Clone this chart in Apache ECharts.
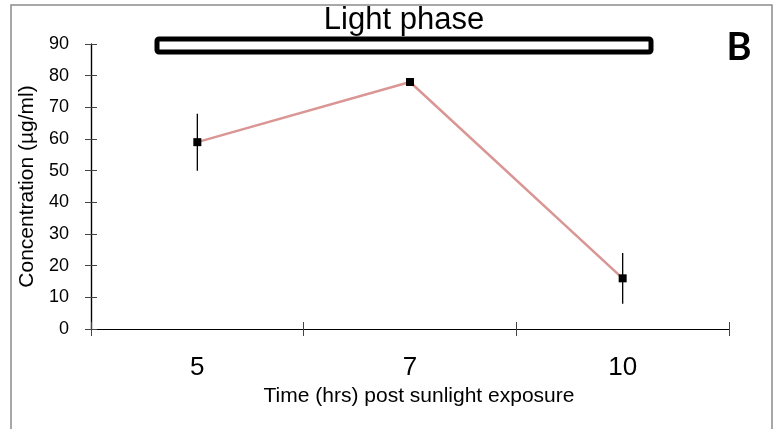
<!DOCTYPE html>
<html>
<head>
<meta charset="utf-8">
<script src="https://cdn.jsdelivr.net/npm/echarts@6/dist/echarts.min.js"></script>
<style>
  html, body { margin: 0; padding: 0; background: #fff; }
  #chart { width: 774px; height: 429px; }
</style>
</head>
<body>
<div id="chart"></div>
<script>
// hours after sunlight exposure
const hours = ['5', '7', '10']
// mean concentration (µg/ml)
const concentration = [59, 78, 16]
// error bar half-widths
const errors = [9, 0, 8]

const yTicks = { min: 0, max: 90, interval: 10 }
const font = 'Liberation Sans, Arial, sans-serif'

// plot area
const grid = { left: 91, right: 45, top: 44, bottom: 100 }
const plotW = 774 - grid.left - grid.right
const plotH = 429 - grid.top - grid.bottom

const myChart = echarts.init(document.getElementById('chart'))

myChart.setOption({
  backgroundColor: '#fff',
  animation: false,
  grid: grid,
  xAxis: [
    {
      type: 'category',
      data: hours,
      boundaryGap: true,
      name: 'Time (hrs) post sunlight exposure',
      nameLocation: 'middle',
      nameGap: 52,
      nameTextStyle: { fontFamily: font, fontSize: 21, color: '#000', padding: [0, 0, 0, 18] },
      axisLine: { lineStyle: { color: '#000', width: 1.2 } },
      axisTick: { show: true, length: 7, lineStyle: { color: '#444' } },
      axisLabel: { fontFamily: font, fontSize: 26, color: '#000', margin: 26 },
      splitLine: { show: false }
    },
    {
      // top axis moved down onto the bottom one: draws the upper half of the crossing ticks
      type: 'category',
      data: hours,
      position: 'top',
      offset: -plotH,
      boundaryGap: true,
      axisLine: { show: true, onZero: false, lineStyle: { color: '#000', width: 1.2 } },
      axisTick: { show: true, length: 7, lineStyle: { color: '#444' } },
      axisLabel: { show: false },
      splitLine: { show: false }
    }
  ],
  yAxis: [
    {
      type: 'value',
      min: yTicks.min,
      max: yTicks.max,
      interval: yTicks.interval,
      name: 'Concentration (µg/ml)',
      nameLocation: 'middle',
      nameGap: 50,
      nameTextStyle: { fontFamily: font, fontSize: 21, color: '#000' },
      axisLine: { show: true, lineStyle: { color: '#000', width: 1.2 } },
      axisTick: { show: true, length: 6, lineStyle: { color: '#444' } },
      axisLabel: { fontFamily: font, fontSize: 18, color: '#000', margin: 22 },
      splitLine: { show: false }
    },
    {
      type: 'value',
      min: yTicks.min,
      max: yTicks.max,
      interval: yTicks.interval,
      position: 'right',
      offset: -plotW,
      axisLine: { show: true, onZero: false, lineStyle: { color: '#000', width: 1.2 } },
      axisTick: { show: true, length: 6, lineStyle: { color: '#444' } },
      axisLabel: { show: false },
      splitLine: { show: false }
    }
  ],
  series: [
    {
      type: 'custom',
      name: 'error',
      xAxisIndex: 1,
      yAxisIndex: 1,
      z: 1,
      renderItem: function (params, api) {
        const i = api.value(0)
        const v = api.value(1)
        const e = api.value(2)
        if (!e) return null
        const top = api.coord([i, v + e])
        const bot = api.coord([i, v - e])
        return {
          type: 'line',
          shape: { x1: top[0], y1: top[1], x2: bot[0], y2: bot[1] },
          style: { stroke: '#000', lineWidth: 1.3 }
        }
      },
      data: hours.map((h, i) => [i, concentration[i], errors[i]])
    },
    {
      type: 'line',
      name: 'Concentration',
      data: concentration,
      z: 2,
      symbol: 'rect',
      symbolSize: 8,
      itemStyle: { color: '#000' },
      lineStyle: { color: '#d99694', width: 2.5 }
    }
  ],
  graphic: [
    {
      type: 'rect',
      z: -1,
      shape: { x: 11, y: 5, width: 761, height: 440 },
      style: { fill: 'none', stroke: '#8c8c8c', lineWidth: 1.5 }
    },
    {
      type: 'rect',
      shape: { x: 157, y: 39, width: 494, height: 13, r: 2 },
      style: { fill: '#fff', stroke: '#000', lineWidth: 5 }
    },
    {
      type: 'text',
      x: 404,
      y: 36,
      style: {
        text: 'Light phase',
        fontFamily: font,
        fontSize: 31,
        fill: '#000',
        textAlign: 'center',
        textVerticalAlign: 'bottom'
      }
    },
    {
      type: 'text',
      x: 739,
      y: 67,
      style: {
        text: 'B',
        fontFamily: 'Lato, Open Sans, sans-serif',
        fontWeight: 'bold',
        fontSize: 38,
        fill: '#000',
        textAlign: 'center',
        textVerticalAlign: 'bottom'
      }
    }
  ]
})
</script>
</body>
</html>
